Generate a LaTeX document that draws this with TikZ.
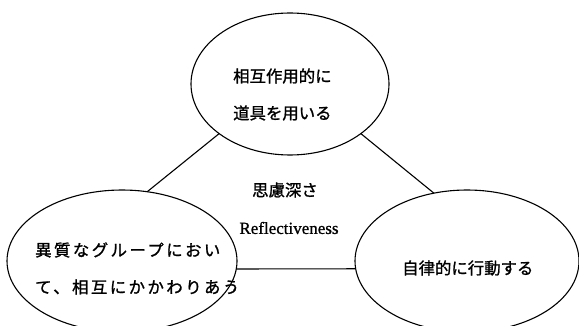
\documentclass[tikz,border=0pt]{standalone}
\usepackage{fontspec}
\newfontfamily\jp[FakeBold=1.2]{Noto Sans CJK JP}
\newfontfamily\lserif[FakeBold=1]{Liberation Serif}
\usetikzlibrary{shapes.geometric}
\begin{document}
\begin{tikzpicture}[x=1pt,y=-1pt,
  oval/.style={draw, ellipse, line width=1.1pt, inner sep=0pt, outer sep=0pt},
  jtext/.style={inner sep=0pt, font=\jp\fontsize{16.4}{18}\selectfont, anchor=west},
  ctext/.style={inner sep=0pt, font=\lserif\fontsize{17}{19}\selectfont},
  conn/.style={line width=1.1pt}]
\useasboundingbox (0,0) rectangle (579,326);
\node[oval, minimum width=198pt, minimum height=142pt] (top) at (290,84) {};
\node[oval, minimum width=230pt, minimum height=142pt] (left) at (122,261) {};
\node[oval, minimum width=224pt, minimum height=142pt] (right) at (467,261) {};
\draw[conn] (top.215) -- (left.70);
\draw[conn] (top.325) -- (right.116);
\draw[conn] (left.356) -- (right.184);
\node[jtext] (t1) at (233,76) {相互作用的に};
\node[jtext] (t2) at (233,113) {道具を用いる};
\node[jtext] (l1) at (35,250) {\addfontfeature{LetterSpace=15}異質なグループにおい};
\node[jtext] (l2) at (35,287) {\addfontfeature{LetterSpace=15}て、相互にかかわりあう};
\node[jtext] (r1) at (402,268) {自律的に行動する};
\node[jtext, anchor=center] (c1) at (285,190) {思慮深さ};
\node[ctext] (c2) at (289,228) {Reflectiveness};
\end{tikzpicture}
\end{document}
